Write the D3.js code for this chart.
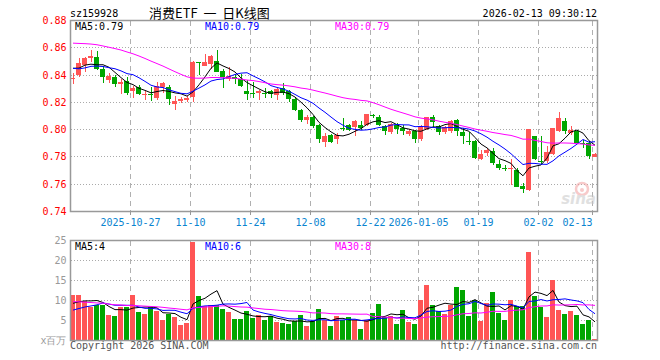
<!DOCTYPE html>
<html>
<head>
<meta charset="utf-8">
<script src="https://cdn.jsdelivr.net/npm/d3@7"></script>
<style>
  body { margin: 0; background: #fff; }
</style>
</head>
<body>
<div id="chart"></div>
<script>
// daily K-line, 88 trading days from 2025-10-13 to 2026-02-13
const opens = [
  .8378,.8397,.8473,.8522,.8534,.8444,.8366,.8388,.8332,.8358,
  .8278,.8310,.8258,.8260,.8227,.8310,.8315,.8185,.8205,.8219,
  .8236,.8495,.8471,.8480,.8505,.8427,.8373,.8388,.8371,.8285,
  .8266,.8268,.8270,.8280,.8256,.8307,.8280,.8224,.8146,.8068,
  .8095,.8036,.7907,.7961,.7934,.8012,.8034,.8014,.8036,.8036,
  .8105,.8093,.8029,.7985,.8034,.8009,.7966,.7990,.7937,.8005,
  .8093,.8029,.7980,.7995,.8070,.7980,.7919,.7914,.7790,.7824,
  .7841,.7751,.7720,.7719,.7707,.7585,.7561,.7956,.7770,.7768,
  .7824,.7988,.8061,.7975,.7988,.7902,.7902,.7805];
const closes = [
  .8380,.8488,.8527,.8537,.8444,.8383,.8395,.8339,.8346,.8268,
  .8302,.8261,.8262,.8255,.8317,.8339,.8229,.8207,.8222,.8231,
  .8493,.8490,.8498,.8537,.8427,.8383,.8395,.8371,.8317,.8261,
  .8263,.8280,.8266,.8261,.8297,.8273,.8222,.8141,.8073,.8090,
  .8029,.7934,.7953,.7912,.7961,.8010,.7995,.8061,.8012,.8117,
  .8102,.8034,.7995,.8044,.8007,.7985,.7988,.7932,.8029,.8095,
  .8054,.7988,.8019,.8066,.7988,.7951,.7917,.7792,.7824,.7848,
  .7751,.7722,.7719,.7722,.7585,.7561,.8007,.7785,.7768,.7834,
  .8012,.8085,.7988,.7997,.7902,.7900,.7805,.7824];
const highs = [
  .8415,.8524,.8530,.8585,.8578,.8463,.8415,.8402,.8371,.8383,
  .8317,.8329,.8280,.8312,.8346,.8346,.8327,.8249,.8239,.8249,
  .8502,.8498,.8556,.8549,.8585,.8444,.8456,.8407,.8405,.8366,
  .8346,.8292,.8307,.8292,.8305,.8339,.8292,.8231,.8153,.8107,
  .8102,.8044,.7975,.7968,.7975,.8085,.8044,.8073,.8061,.8117,
  .8117,.8107,.8034,.8049,.8049,.8036,.8005,.7999,.8034,.8095,
  .8110,.8034,.8027,.8073,.8078,.8012,.7980,.7926,.7853,.7865,
  .7865,.7775,.7744,.7785,.7719,.7612,.8007,.7956,.7956,.7878,
  .8012,.8127,.8085,.8029,.7995,.7926,.7914,.7829];
const lows = [
  .8334,.8383,.8422,.8493,.8439,.8341,.8341,.8310,.8261,.8254,
  .8232,.8251,.8219,.8212,.8220,.8268,.8178,.8146,.8195,.8200,
  .8205,.8402,.8463,.8444,.8422,.8302,.8354,.8334,.8310,.8219,
  .8229,.8214,.8229,.8232,.8219,.8256,.8200,.8134,.8053,.8039,
  .8010,.7902,.7870,.7902,.7897,.7990,.7988,.7951,.7995,.8029,
  .8085,.8027,.7958,.7971,.7971,.7958,.7951,.7900,.7919,.7995,
  .8019,.7963,.7968,.7978,.7951,.7892,.7890,.7785,.7780,.7805,
  .7744,.7702,.7700,.7592,.7580,.7534,.7549,.7776,.7751,.7756,
  .7817,.7980,.7971,.7963,.7897,.7866,.7785,.7800];
// volume, millions
const volumes = [
  11.3,11.3,10.0,8.4,9.0,8.8,6.3,6.1,8.4,8.4,
  11.3,7.1,6.6,8.4,7.5,5.1,6.75,5.9,3.8,4.5,
  24.7,11.1,8.7,9.0,8.8,7.8,7.1,5.3,5.3,7.3,
  5.7,6.3,5.1,6.1,4.7,4.4,4.2,4.8,6.3,3.6,
  4.8,7.8,5.1,3.6,6.1,5.1,5.8,5.1,3.0,5.1,
  7.0,9.1,5.9,6.1,4.1,7.6,4.6,4.25,10.1,13.8,
  8.8,7.3,6.6,9.0,13.3,12.6,6.1,10.1,4.8,9.4,
  12.1,6.8,5.1,10.1,8.6,8.6,22.1,11.1,8.5,5.8,
  15.1,7.6,6.6,7.3,6.3,4.25,5.1,0.3];
// 29 sessions before the window, only feed the moving averages
const priorCloses = [
  .855,.858,.862,.860,.865,.868,.863,.866,.870,.870,
  .875,.880,.884,.886,.889,.885,.882,.880,.878,.877,
  .852,.846,.842,.843,.841,.8483,.8417,.8502,.8468];
const priorVolumes = [
  12,13,11,12,10,14,11,10,12,11,
  10,9,11,10,9,12,10,9,9,10,
  7.3,6.2,5.8,6.2,4.0,9.3,9.0,8.4,8.5];

const tickIndex = [10, 20, 30, 40, 50, 58, 68, 78, 87];
const tickLabels = ["2025-10-27","11-10","11-24","12-08","12-22","2026-01-05","01-19","02-02","02-13"];
const priceTicks = [0.74, 0.76, 0.78, 0.80, 0.82, 0.84, 0.86, 0.88];
const volTicks = [5, 10, 15, 20, 25];
const maPeriods = [5, 10, 30];
const maColors = ["#000000", "#0000ff", "#ff00ff"];

// layout
const W = 660, H = 360;
const pl = 70.5, pr = 597.5;
const mainTop = 20.5, mainBottom = 211.5;
const volTop = 240.5, volBottom = 340.5;
const up = "#ff5555", down = "#00a600";

const svg = d3.select("#chart").append("svg")
    .attr("width", W).attr("height", H)
    .style("font-family", "'DejaVu Sans Mono', monospace")
    .style("font-size", "10px");

const n = closes.length;
const x = d3.scaleLinear().domain([0, n]).range([pl, pl + n * 6]);
const y = d3.scaleLinear().domain([0.74, 0.88]).range([mainBottom, mainTop]);
const yv = d3.scaleLinear().domain([0, 25]).range([volBottom, volTop]);
const cx = i => x(i) + 2;
const crisp = v => Math.round(v - 0.5) + 0.5;

function movingAvg(prior, values, p) {
  const all = prior.concat(values);
  return values.map((_, i) => d3.mean(all.slice(prior.length + i - p + 1, prior.length + i + 1)));
}
const priceMA = maPeriods.map(p => movingAvg(priorCloses, closes, p));
const volMA = maPeriods.map(p => movingAvg(priorVolumes, volumes, p));
const isUp = i => closes[i] >= opens[i];

// header
svg.append("text").attr("x", 70).attr("y", 17).text("sz159928");
svg.append("text").attr("x", 149).attr("y", 18)
    .style("font-family", "'Noto Sans CJK SC', sans-serif").style("font-size", "13px")
    .style("white-space", "pre")
    .text("消费ETF  一  日K线图");
svg.append("text").attr("x", 597).attr("y", 17).attr("text-anchor", "end").text("2026-02-13 09:30:12");

// grids for both panels
function panelGrid(top, bottom, yTicks, scale) {
  const g = svg.append("g").attr("shape-rendering", "crispEdges");
  g.selectAll(".h").data(yTicks).enter().append("line")
      .attr("x1", pl).attr("x2", pr)
      .attr("y1", d => crisp(scale(d))).attr("y2", d => crisp(scale(d)))
      .attr("stroke", "#aaa").attr("stroke-dasharray", "1,2");
  g.selectAll(".v").data(tickIndex).enter().append("line")
      .attr("x1", d => x(d)).attr("x2", d => x(d))
      .attr("y1", top).attr("y2", bottom)
      .attr("stroke", "#b0b0b0").attr("stroke-dasharray", "5,4");
  return g;
}
panelGrid(mainTop, mainBottom, priceTicks.slice(1, -1), y);
panelGrid(volTop, volBottom, volTicks.slice(0, -1), yv);

// sina watermark
const wm = svg.append("g").attr("opacity", 0.55);
wm.append("circle").attr("cx", 582).attr("cy", 189).attr("r", 6)
    .attr("fill", "none").attr("stroke", "#f3a0a0").attr("stroke-width", 2.5);
wm.append("circle").attr("cx", 582).attr("cy", 190).attr("r", 2).attr("fill", "#f3a0a0");
wm.append("text").attr("x", 596).attr("y", 204).attr("text-anchor", "end")
    .style("font-family", "'DejaVu Sans', sans-serif").style("font-size", "15px")
    .style("font-style", "italic").style("font-weight", "bold")
    .attr("fill", "#c8c8c8").text("sina");

// candles
const candles = svg.append("g").attr("shape-rendering", "crispEdges");
const idx = d3.range(n);
candles.selectAll(".wick").data(idx).enter().append("line")
    .attr("x1", i => cx(i) + 0.5).attr("x2", i => cx(i) + 0.5)
    .attr("y1", i => Math.round(y(highs[i]))).attr("y2", i => Math.round(y(lows[i])))
    .attr("stroke", i => isUp(i) ? up : down);
candles.selectAll(".body").data(idx).enter().append("rect")
    .attr("x", i => x(i) - 0.5)
    .attr("width", 5)
    .attr("y", i => Math.round(y(Math.max(opens[i], closes[i]))))
    .attr("height", i => Math.max(1, Math.round(Math.abs(y(opens[i]) - y(closes[i])))))
    .attr("fill", i => isUp(i) ? up : down);

// volume bars
svg.append("g").attr("shape-rendering", "crispEdges")
  .selectAll("rect").data(idx).enter().append("rect")
    .attr("x", i => x(i) - 0.5)
    .attr("width", 5)
    .attr("y", i => Math.round(yv(volumes[i])))
    .attr("height", i => Math.round(volBottom - yv(volumes[i])))
    .attr("fill", i => isUp(i) ? up : down);

// moving average lines
function maLines(series, scale) {
  series.forEach((s, k) => {
    svg.append("path")
        .datum(s)
        .attr("fill", "none")
        .attr("stroke", maColors[k])
        .attr("stroke-width", 1)
        .attr("d", d3.line().x((d, i) => cx(i) + 0.5).y(d => scale(d)));
  });
}
maLines(priceMA, y);
maLines(volMA, yv);

// frames
[[mainTop, mainBottom], [volTop, volBottom]].forEach(([t, b]) => {
  svg.append("rect").attr("x", pl).attr("y", t)
      .attr("width", pr - pl).attr("height", b - t)
      .attr("fill", "none").attr("stroke", "#999").attr("stroke-width", 1.5);
});

// small ticks under the price panel
svg.append("g").attr("shape-rendering", "crispEdges")
  .selectAll("line").data(tickIndex).enter().append("line")
    .attr("x1", d => x(d)).attr("x2", d => x(d))
    .attr("y1", mainBottom).attr("y2", mainBottom + 3)
    .attr("stroke", "#999");

// axis labels
svg.append("g").selectAll("text").data(priceTicks).enter().append("text")
    .attr("x", 66.5).attr("y", d => y(d) + 3.5)
    .attr("text-anchor", "end").attr("fill", "#ff0000")
    .text(d => d.toFixed(2));

svg.append("g").selectAll("text").data(tickIndex).enter().append("text")
    .attr("x", d => x(d))
    .attr("y", 225.5)
    .attr("text-anchor", (d, k) => x(d) + tickLabels[k].length * 3 > pr ? "end" : "middle")
    .attr("fill", "#0a84d0")
    .text((d, k) => tickLabels[k]);

svg.append("g").selectAll("text").data(volTicks).enter().append("text")
    .attr("x", 66.5).attr("y", d => yv(d) + 3.5)
    .attr("text-anchor", "end").attr("fill", "#999")
    .text(d => d);
svg.append("text").attr("x", 66.5).attr("y", volBottom + 3.5)
    .attr("text-anchor", "end").attr("fill", "#999")
    .text("x百万");

// moving average legends
const labelX = [75, 205, 335];
maPeriods.forEach((p, k) => {
  const last = priceMA[k][n - 1];
  svg.append("text").attr("x", labelX[k]).attr("y", 30)
      .attr("fill", maColors[k]).text(`MA${p}:${last.toFixed(2)}`);
  const lastV = volMA[k][n - 1];
  svg.append("text").attr("x", labelX[k]).attr("y", 250)
      .attr("fill", maColors[k]).text(`MA${p}:${Math.floor(lastV)}`);
});

// footer
svg.append("text").attr("x", 70).attr("y", 349).attr("fill", "#555").text("Copyright 2026 SINA.COM");
svg.append("text").attr("x", 597).attr("y", 349).attr("text-anchor", "end").attr("fill", "#555")
    .text("http://finance.sina.com.cn");
</script>
</body>
</html>
